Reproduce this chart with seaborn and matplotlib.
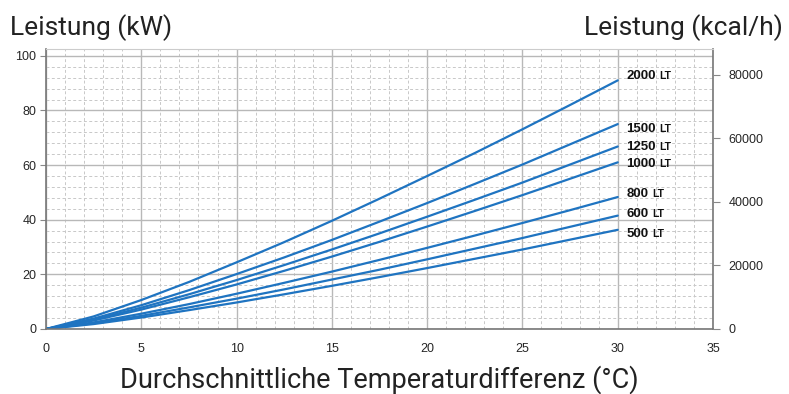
import numpy as np
import pandas as pd
import matplotlib.pyplot as plt
from matplotlib.ticker import MultipleLocator
import seaborn as sns

# Temperaturdifferenz (°C) und Leistung (kW) je Tankgroesse
temp_diff = [0, 2.5, 5, 7.5, 10, 12.5, 15, 17.5, 20, 22.5, 25, 27.5, 30]
tanks = ['2000', '1500', '1250', '1000', '800', '600', '500']
kw_2000 = [0, 4.6, 10.6, 17.2, 24.4, 31.8, 39.6, 47.7, 56.0, 64.4, 73.1, 82.0, 91.0]
kw_1500 = [0, 3.8, 8.7, 14.2, 20.1, 26.2, 32.6, 39.3, 46.1, 53.1, 60.2, 67.6, 75.0]
kw_1250 = [0, 3.4, 7.8, 12.7, 17.9, 23.4, 29.1, 35.0, 41.1, 47.3, 53.6, 60.2, 66.8]
kw_1000 = [0, 3.1, 7.1, 11.6, 16.3, 21.3, 26.5, 31.9, 37.5, 43.2, 49.0, 55.0, 61.0]
kw_800 = [0, 2.4, 5.6, 9.1, 12.9, 16.9, 21.0, 25.3, 29.7, 34.2, 38.8, 43.5, 48.3]
kw_600 = [0, 2.1, 4.8, 7.9, 11.1, 14.5, 18.1, 21.7, 25.5, 29.4, 33.3, 37.4, 41.5]
kw_500 = [0, 1.8, 4.2, 6.9, 9.7, 12.7, 15.8, 19.0, 22.3, 25.7, 29.1, 32.7, 36.3]
kw_all = [kw_2000, kw_1500, kw_1250, kw_1000, kw_800, kw_600, kw_500]

rows = []
for name, vals in zip(tanks, kw_all):
    for t, v in zip(temp_diff, vals):
        rows.append({'dT': t, 'kW': v, 'tank': name})
df = pd.DataFrame(rows)

sns.set_style('white')
plt.rcParams['font.family'] = ['Liberation Sans', 'DejaVu Sans']

blue = '#1f74c1'
fig = plt.figure(figsize=(7.89, 3.94), dpi=100)
ax = fig.add_axes([0.0583, 0.165, 0.8454, 0.7107])

sns.lineplot(data=df, x='dT', y='kW', hue='tank', hue_order=tanks,
             palette=[blue] * len(tanks), linewidth=1.6, legend=False, ax=ax)

ax.set_xlim(0, 35)
ax.set_ylim(0, 102.5)
ax.xaxis.set_major_locator(MultipleLocator(5))
ax.xaxis.set_minor_locator(MultipleLocator(1))
ax.yaxis.set_major_locator(MultipleLocator(20))
ax.yaxis.set_minor_locator(MultipleLocator(4))
ax.set_axisbelow(True)
ax.grid(which='major', color='#b8b8b8', linewidth=1.0, linestyle='-')
ax.grid(which='minor', color='#c8c8c8', linewidth=0.7, linestyle=(0, (3, 2.5)))
ax.tick_params(which='major', direction='out', length=4, width=0.8, color='#888888',
               labelsize=9, pad=3)
ax.tick_params(which='minor', length=0)
ax.tick_params(axis='x', pad=6)
ax.set_xlabel('')
ax.set_ylabel('')
for s in ['left', 'bottom', 'right']:
    ax.spines[s].set_color('#777777')
    ax.spines[s].set_linewidth(1.2)
ax.spines['top'].set_color('#cccccc')

ax2 = ax.twinx()
ax2.set_ylim(0, 102.5 * 860)
ax2.yaxis.set_major_locator(MultipleLocator(20000))
ax2.tick_params(direction='out', length=5, width=0.8, color='#888888', labelsize=9, pad=6)
for s in ax2.spines.values():
    s.set_visible(False)
ax2.grid(False)

# Beschriftung der Kurven
label_shift = [1.7, -1.7, 0.0, -0.6, 1.1, 0.6, -1.5]
for name, vals, dy in zip(tanks, kw_all, label_shift):
    t = ax.text(30.45, vals[-1] + dy, name, fontsize=9.5, fontweight='bold',
                ha='left', va='center', color='#111111')
    ax.annotate('LT', xy=(1, 0.5), xycoords=t, xytext=(2.5, 0), textcoords='offset points',
                fontsize=7.5, fontweight='bold', ha='left', va='center', color='#111111')

title_font = ['Roboto', 'DejaVu Sans']
fig.text(10 / 789, 1 - 28 / 394, 'Leistung (kW)', family=title_font, fontsize=19,
         color='#222222', ha='left', va='center')
fig.text(783 / 789, 1 - 28 / 394, 'Leistung (kcal/h)', family=title_font, fontsize=19,
         color='#222222', ha='right', va='center')
fig.text(379 / 789, 1 - 380 / 394, 'Durchschnittliche Temperaturdifferenz (°C)',
         family=title_font, fontsize=19.5, color='#222222', ha='center', va='center')

fig.savefig('out.png', dpi=100)
